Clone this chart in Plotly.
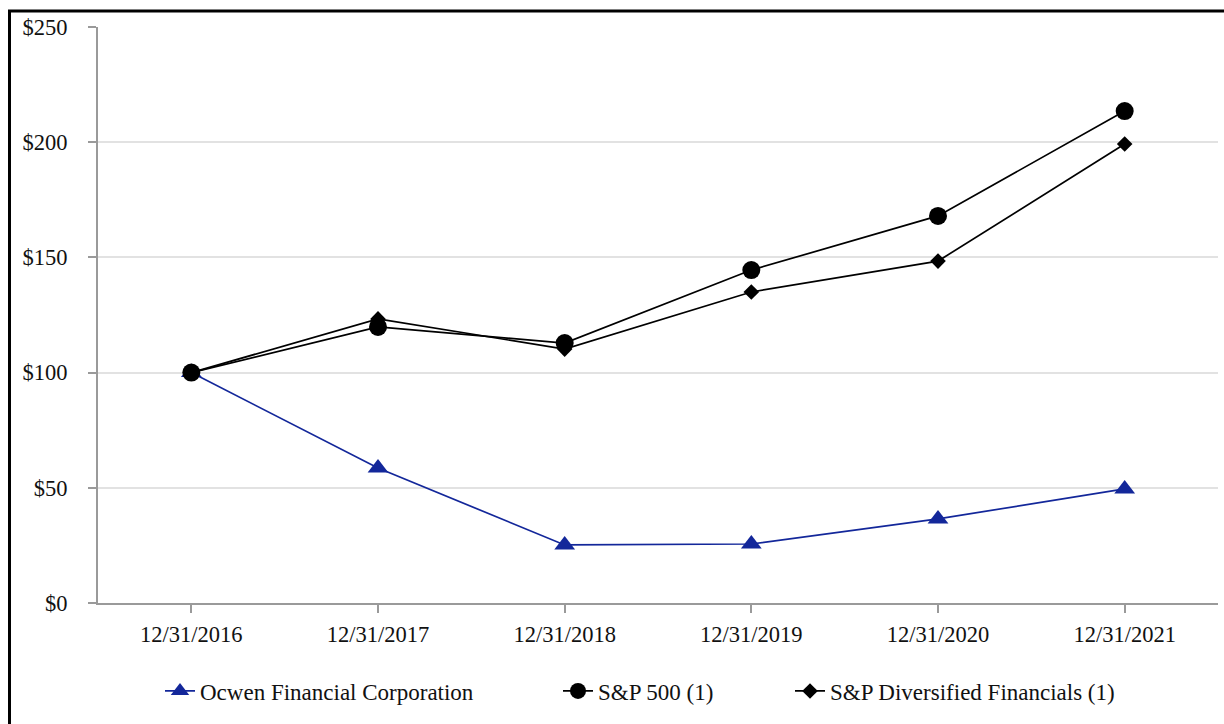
import plotly.graph_objects as go

dates = ["12/31/2016", "12/31/2017", "12/31/2018", "12/31/2019", "12/31/2020", "12/31/2021"]
ocwen = [100.0, 58.6, 25.2, 25.6, 36.5, 49.5]
sp500 = [100.0, 119.8, 112.8, 144.5, 168.0, 213.5]
spdf = [100.0, 123.3, 110.2, 135.0, 148.4, 199.2]
y_ticks = [0, 50, 100, 150, 200, 250]
y_labels = ["$0", "$50", "$100", "$150", "$200", "$250"]

FONT = "Liberation Serif, Times New Roman, serif"
AX = "#9a9a9a"

fig = go.Figure()
fig.add_trace(go.Scatter(x=dates, y=ocwen, name="Ocwen Financial Corporation", mode="lines+markers",
                         line=dict(color="#13279a", width=1.7),
                         marker=dict(symbol="triangle-up", size=18, color="#13279a"), legend="legend"))
fig.add_trace(go.Scatter(x=dates, y=sp500, name="S&P 500 (1)", mode="lines+markers",
                         line=dict(color="black", width=1.7),
                         marker=dict(symbol="circle", size=18, color="black"), legend="legend2"))
fig.add_trace(go.Scatter(x=dates, y=spdf, name="S&P Diversified Financials (1)", mode="lines+markers",
                         line=dict(color="black", width=1.7),
                         marker=dict(symbol="diamond", size=12, color="black"), legend="legend3"))

W, H = 1224, 724
L, R, T, B = 98, 6, 27, 121
pw, ph = W - L - R, H - T - B

def px_x(x):
    return (x - L) / pw

def px_y(y):
    return (H - B - y) / ph

leg_common = dict(orientation="h", yanchor="middle", xanchor="left", bgcolor="rgba(0,0,0,0)",
                  font=dict(family=FONT, size=23, color="#111"))

fig.update_layout(
    width=W, height=H,
    margin=dict(l=L, r=R, t=T, b=B),
    paper_bgcolor="white", plot_bgcolor="white",
    font=dict(family=FONT, size=22, color="#111"),
    showlegend=True,
    legend=dict(x=px_x(160), y=px_y(691), **leg_common),
    legend2=dict(x=px_x(558), y=px_y(691), **leg_common),
    legend3=dict(x=px_x(790), y=px_y(691), **leg_common),
    xaxis=dict(type="category", range=[-0.5, 5.5], showgrid=False, showline=True, linecolor=AX,
               linewidth=2, ticks="outside", ticklen=8, tickcolor=AX, tickwidth=1.5,
               ticklabelstandoff=2, tickfont=dict(family=FONT, size=22.5, color="#111")),
    yaxis=dict(range=[0, 250], tickvals=y_ticks, ticktext=y_labels, showgrid=True, gridcolor="#e2e2e2",
               gridwidth=1.5, showline=True, linecolor=AX, linewidth=2, ticks="outside", ticklen=8,
               tickcolor=AX, tickwidth=1.5, ticklabelstandoff=16, zeroline=False,
               tickfont=dict(family=FONT, size=22.5, color="#111")),
    shapes=[dict(type="rect", xref="paper", yref="paper",
                 x0=px_x(9.5), x1=px_x(W + 10), y0=px_y(H + 10), y1=px_y(11),
                 line=dict(color="black", width=3), fillcolor="rgba(0,0,0,0)", layer="above")],
)

fig.write_html("out.html")
